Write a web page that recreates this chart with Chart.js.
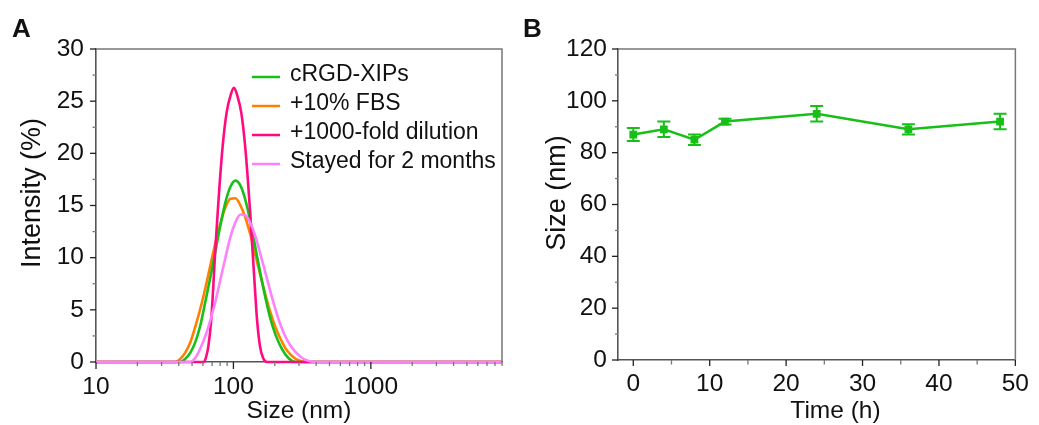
<!DOCTYPE html>
<html>
<head>
<meta charset="utf-8">
<script src="https://cdn.jsdelivr.net/npm/chart.js@4.4.1/dist/chart.umd.min.js"></script>
<style>
  html, body { margin: 0; padding: 0; background: #fff; }
  #wrap { position: relative; width: 1039px; height: 425px; }
  canvas { position: absolute; top: 0; }
  #chartA { left: 0; }
  #chartB { left: 520px; }
  .tag { position: absolute; font: bold 26px 'Liberation Sans', Arial, sans-serif; color: #111; }
</style>
</head>
<body>
<div id="wrap">
  <canvas id="chartA" width="520" height="425"></canvas>
  <canvas id="chartB" width="519" height="425"></canvas>
  <div class="tag" style="left:12px; top:13px;">A</div>
  <div class="tag" style="left:523px; top:13px;">B</div>
</div>
<script>
// ---- panel A: size distribution (x = size in nm, y = intensity %) ----
const sizeGrid = [10, 31.9, 34.7, 37.7, 41.0, 44.6, 48.6, 52.8, 57.4, 62.5, 67.9, 73.9, 80.4, 87.4, 95.1,
  103.4, 112.5, 122.4, 133.1, 144.8, 157.5, 171.3, 186.3, 202.6, 220.4, 239.7, 260.7, 283.6, 308.4,
  335.5, 364.8, 396.8, 431.5, 9000];
const xipsInt = [0, 0, 0, 0, 0, 0.3, 0.9, 1.9, 3.5, 5.8, 8.1, 10.6, 13.1, 15.3, 16.8, 17.38, 16.9, 15.5,
  13.4, 10.9, 8.4, 6.1, 4.1, 2.6, 1.5, 0.7, 0.2, 0, 0, 0, 0, 0, 0, 0];
const fbsInt = [0, 0, 0, 0, 0.3, 0.9, 1.9, 3.4, 5.1, 7.1, 9.25, 11.4, 13.3, 14.8, 15.65, 15.7, 15.0, 13.8,
  12.15, 10.2, 8.25, 6.4, 4.7, 3.3, 2.2, 1.3, 0.7, 0.3, 0.1, 0, 0, 0, 0, 0];
const monthsInt = [0, 0, 0, 0, 0, 0, 0, 0.4, 1.3, 2.5, 4.0, 5.8, 7.9, 10.0, 12.0, 13.4, 14.14, 14.05, 13.3,
  12.0, 10.3, 8.5, 6.7, 5.0, 3.55, 2.4, 1.55, 0.95, 0.5, 0.2, 0.05, 0, 0, 0];
const dilutionSize = [10, 60.9, 63.0, 65.7, 69.0, 71.4, 73.6, 76.8, 79.8, 83.5, 89.2, 95.1, 100.8, 106.9,
  114.0, 121.7, 127.3, 132.4, 138.0, 143.0, 148.4, 156.1, 164.1, 175.5, 9000];
const dilutionInt = [0, 0, 0.4, 1.5, 4.1, 7.3, 10.5, 14.3, 17.5, 20.7, 23.9, 25.5, 26.27, 25.5, 23.9, 20.7,
  17.5, 14.3, 10.5, 7.3, 4.1, 1.5, 0.4, 0, 0];
const labelsA = ['cRGD-XIPs', '+10% FBS', '+1000-fold dilution', 'Stayed for 2 months'];
const sizeTicks = [10, 20, 30, 40, 50, 60, 70, 80, 90, 100, 200, 300, 400, 500, 600, 700, 800, 900,
  1000, 2000, 3000, 4000, 5000, 6000, 7000, 8000, 9000];
const sizeLabels = [10, 100, 1000];

// ---- panel B: size over time ----
const times = [0, 4, 8, 12, 24, 36, 48];
const sizeMean = [87, 89, 85, 92, 95, 89, 92];
const sizeErr = [2.5, 3, 2, 1.1, 3, 2, 3];

const GREEN = '#17bf17';
const ORANGE = '#ff8000';
const MAGENTA = '#ff0a80';
const LILAC = '#ff80ff';
const FONT = "'Liberation Sans', Arial, sans-serif";

Chart.defaults.font.family = FONT;
Chart.defaults.color = '#111';

function pts(xs, ys) { return xs.map((x, i) => ({ x: x, y: ys[i] })); }
function range(a, b, s) { const r = []; for (let v = a; v <= b + 1e-9; v += s) r.push(v); return r; }

// outward tick marks (long on labelled values), top/right frame, axis titles
const frameAndTicks = {
  id: 'frameAndTicks',
  afterDraw(chart, args, opts) {
    const ctx = chart.ctx;
    ctx.save();
    ['x', 'y'].forEach(id => {
      const sc = chart.scales[id];
      sc.ticks.forEach(t => {
        const major = opts.major[id](t.value);
        const len = major ? opts.len[id][0] : opts.len[id][1];
        ctx.strokeStyle = major ? '#222' : '#777';
        ctx.lineWidth = 1.3;
        ctx.beginPath();
        const p = sc.getPixelForValue(t.value);
        if (id === 'x') { ctx.moveTo(p, sc.top); ctx.lineTo(p, sc.top + len); }
        else { ctx.moveTo(sc.right, p); ctx.lineTo(sc.right - len, p); }
        ctx.stroke();
      });
    });
    const a = chart.chartArea;
    ctx.strokeStyle = '#777';
    ctx.lineWidth = 1.5;
    ctx.beginPath();
    ctx.moveTo(a.left, a.top); ctx.lineTo(a.right, a.top); ctx.lineTo(a.right, a.bottom);
    ctx.stroke();

    ctx.fillStyle = '#111';
    ctx.textAlign = 'center';
    ctx.textBaseline = 'middle';
    ctx.font = '24.5px ' + FONT;
    ctx.fillText(opts.xTitle.text, opts.xTitle.x, opts.xTitle.y);
    ctx.translate(opts.yTitle.x, opts.yTitle.y);
    ctx.rotate(-Math.PI / 2);
    ctx.font = '27px ' + FONT;
    ctx.fillText(opts.yTitle.text, 0, 0);
    ctx.restore();
  }
};

const insideLegend = {
  id: 'insideLegend',
  afterDraw(chart) {
    const ctx = chart.ctx;
    ctx.save();
    ctx.font = '23px ' + FONT;
    ctx.textBaseline = 'middle';
    labelsA.forEach((lab, i) => {
      const ds = chart.data.datasets[i];
      const y = 77 + i * 29;
      ctx.strokeStyle = ds.borderColor;
      ctx.lineWidth = 2.5;
      ctx.beginPath(); ctx.moveTo(252, y); ctx.lineTo(280, y); ctx.stroke();
      ctx.fillStyle = '#111';
      ctx.fillText(lab, 290, y - 2.5);
    });
    ctx.restore();
  }
};

const errorBars = {
  id: 'errorBars',
  afterDatasetsDraw(chart) {
    const { ctx, scales: { x, y } } = chart;
    ctx.save();
    ctx.strokeStyle = GREEN;
    ctx.lineWidth = 2;
    times.forEach((t, i) => {
      const px = x.getPixelForValue(t);
      const hi = y.getPixelForValue(sizeMean[i] + sizeErr[i]);
      const lo = y.getPixelForValue(sizeMean[i] - sizeErr[i]);
      ctx.beginPath();
      ctx.moveTo(px, hi); ctx.lineTo(px, lo);
      ctx.moveTo(px - 6.5, hi); ctx.lineTo(px + 6.5, hi);
      ctx.moveTo(px - 6.5, lo); ctx.lineTo(px + 6.5, lo);
      ctx.stroke();
    });
    ctx.restore();
  }
};

function curve(label, xs, ys, color, order) {
  return {
    label: label, data: pts(xs, ys), borderColor: color, backgroundColor: color,
    borderWidth: 2.6, pointRadius: 0, cubicInterpolationMode: 'monotone', clip: 6, order: order
  };
}

function axisOpts(extra) {
  return Object.assign({
    grid: { display: false, drawTicks: false },
    border: { color: '#555', width: 1.6 },
    title: { display: false }
  }, extra);
}

new Chart(document.getElementById('chartA'), {
  type: 'line',
  data: {
    datasets: [
      curve(labelsA[0], sizeGrid, xipsInt, GREEN, 2),
      curve(labelsA[1], sizeGrid, fbsInt, ORANGE, 3),
      curve(labelsA[2], dilutionSize, dilutionInt, MAGENTA, 1),
      curve(labelsA[3], sizeGrid, monthsInt, LILAC, 0)
    ]
  },
  options: {
    responsive: false,
    animation: false,
    layout: { padding: { top: 49, right: 18, left: 0, bottom: 0 } },
    plugins: {
      legend: { display: false },
      tooltip: { enabled: false },
      frameAndTicks: {
        major: { x: v => sizeLabels.includes(v), y: v => v % 5 === 0 },
        len: { x: [7, 4], y: [6, 3.5] },
        xTitle: { text: 'Size (nm)', x: 299, y: 411 },
        yTitle: { text: 'Intensity (%)', x: 33, y: 193 }
      }
    },
    scales: {
      x: axisOpts({
        type: 'logarithmic', min: 10, max: 9000,
        afterBuildTicks: s => { s.ticks = sizeTicks.map(v => ({ value: v })); },
        afterFit: s => { s.height = 63; },
        ticks: {
          autoSkip: false, maxRotation: 0, padding: 11, color: '#111', font: { size: 24.5 },
          callback: v => sizeLabels.includes(v) ? String(v) : ''
        }
      }),
      y: axisOpts({
        min: 0, max: 30,
        afterBuildTicks: s => { s.ticks = range(0, 30, 2.5).map(v => ({ value: v })); },
        afterFit: s => { s.width = 96; },
        ticks: {
          autoSkip: false, padding: 12, color: '#111', font: { size: 24.5 },
          callback: v => v % 5 === 0 ? String(v) : ''
        }
      })
    }
  },
  plugins: [frameAndTicks, insideLegend]
});

new Chart(document.getElementById('chartB'), {
  type: 'line',
  data: {
    datasets: [{
      label: 'Size', data: pts(times, sizeMean),
      borderColor: GREEN, backgroundColor: GREEN, borderWidth: 2.5,
      pointStyle: 'rect', pointRadius: 5.5, pointBorderWidth: 0, clip: 8
    }]
  },
  options: {
    responsive: false,
    animation: false,
    layout: { padding: { top: 49, right: 15, left: 0, bottom: 0 } },
    plugins: {
      legend: { display: false },
      tooltip: { enabled: false },
      frameAndTicks: {
        major: { x: v => v % 10 === 0, y: v => v % 20 === 0 },
        len: { x: [6, 4.5], y: [6, 3] },
        xTitle: { text: 'Time (h)', x: 315.5, y: 411 },
        yTitle: { text: 'Size (nm)', x: 38, y: 193 }
      }
    },
    scales: {
      x: axisOpts({
        type: 'linear', min: -2, max: 50,
        afterBuildTicks: s => { s.ticks = range(0, 50, 5).map(v => ({ value: v })); },
        afterFit: s => { s.height = 65; },
        ticks: {
          autoSkip: false, maxRotation: 0, padding: 10, color: '#111', font: { size: 24.5 },
          callback: v => v % 10 === 0 ? String(v) : ''
        }
      }),
      y: axisOpts({
        min: 0, max: 120,
        afterBuildTicks: s => { s.ticks = range(0, 120, 10).map(v => ({ value: v })); },
        afterFit: s => { s.width = 98; },
        ticks: {
          autoSkip: false, padding: 11, color: '#111', font: { size: 24.5 },
          callback: v => v % 20 === 0 ? String(v) : ''
        }
      })
    }
  },
  plugins: [frameAndTicks, errorBars]
});
</script>
</body>
</html>
